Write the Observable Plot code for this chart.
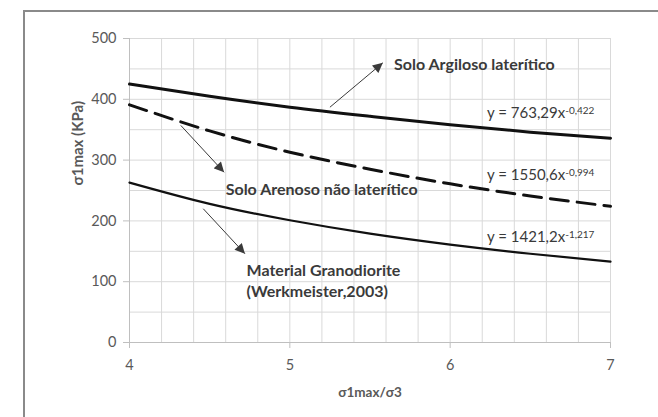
<!DOCTYPE html>
<html>
<head>
<meta charset="utf-8">
<script src="https://cdn.jsdelivr.net/npm/d3@7"></script>
<script src="https://cdn.jsdelivr.net/npm/@observablehq/plot@0.6"></script>
<style>
  html, body { margin: 0; padding: 0; background: #fff; }
  #wrap { position: relative; width: 658px; height: 417px; overflow: hidden; }
  #frame { position: absolute; left: 23px; top: 10px; width: 700px; height: 500px; border: 2px solid #8a8a8a; box-sizing: border-box; pointer-events: none; }
  svg { display: block; }
</style>
</head>
<body>
<div id="wrap"><div id="frame"></div></div>
<script>
// x values (σ1max/σ3) and curve values (kPa)
const xs = [4, 4.5, 5, 5.5, 6, 6.5, 7];
const argiloso = [425, 405, 387, 372, 358, 346, 336];
const arenoso = [391, 348, 313, 285, 261, 241, 224];
const granodiorite = [263, 228, 201, 179, 161, 146, 133];

// tick values
const xTicks = [4, 5, 6, 7];
const yTicks = [0, 100, 200, 300, 400, 500];
const xGrid = [4, 4.2, 4.4, 4.6, 4.8, 5, 5.2, 5.4, 5.6, 5.8, 6, 6.2, 6.4, 6.6, 6.8, 7];
const yGrid = [0, 50, 100, 150, 200, 250, 300, 350, 400, 450, 500];

// annotations
const labelNames = ["Solo Argiloso laterítico", "Solo Arenoso não laterítico", "Material Granodiorite\n(Werkmeister,2003)"];
const labelX = [5.65, 4.60, 4.73];
const labelY = [459, 253, 103];

const arrowX1 = [5.25, 4.32, 4.46];
const arrowY1 = [387, 357, 220];
const arrowX2 = [5.58, 4.59, 4.72];
const arrowY2 = [460, 280, 146];

const eqBase = ["y = 763,29x", "y = 1550,6x", "y = 1421,2x"];
const eqExp = ["-0,422", "-0,994", "-1,217"];
const eqX = [6.23, 6.23, 6.23];
const eqY = [377, 275, 173];

const seriesNames = ["Solo Argiloso laterítico", "Solo Arenoso não laterítico", "Material Granodiorite"];
const seriesVals = [argiloso, arenoso, granodiorite];
const rows = [];
seriesNames.forEach((s, k) => xs.forEach((x, i) => rows.push({series: s, x, y: seriesVals[k][i]})));
const idx3 = [0, 1, 2];

const textColor = "#3a3a3a";
const axisColor = "#595959";

const svg = Plot.plot({
  width: 658,
  height: 417,
  marginLeft: 129,
  marginRight: 48,
  marginTop: 38,
  marginBottom: 75,
  style: {fontFamily: "Lato, 'Open Sans', sans-serif", fontSize: "14px", color: axisColor, background: "transparent"},
  x: {domain: [4, 7]},
  y: {domain: [0, 500]},
  marks: [
    Plot.ruleX(xGrid, {stroke: "#d9d9d9", strokeWidth: 1}),
    Plot.ruleY(yGrid, {stroke: "#d9d9d9", strokeWidth: 1}),
    Plot.axisY({ticks: yTicks, tickSize: 6, tickPadding: 7, stroke: "#bfbfbf", fill: axisColor, label: null, fontSize: 14.5, tickFormat: "d"}),
    Plot.axisX({ticks: xTicks, tickSize: 6, tickPadding: 11, stroke: "#bfbfbf", fill: axisColor, label: null, fontSize: 14.5, tickFormat: "d"}),
    Plot.ruleX([4], {stroke: "#bfbfbf"}),
    Plot.ruleY([0], {stroke: "#bfbfbf"}),
    Plot.line(rows.filter(d => d.series === seriesNames[0]), {x: "x", y: "y", stroke: "#111", strokeWidth: 3, curve: "natural"}),
    Plot.line(rows.filter(d => d.series === seriesNames[1]), {x: "x", y: "y", stroke: "#111", strokeWidth: 3, strokeDasharray: "18,9", curve: "natural"}),
    Plot.line(rows.filter(d => d.series === seriesNames[2]), {x: "x", y: "y", stroke: "#111", strokeWidth: 2.2, curve: "natural"}),
    Plot.link(idx3, {x1: i => arrowX1[i], y1: i => arrowY1[i], x2: i => arrowX2[i], y2: i => arrowY2[i], stroke: textColor, strokeWidth: 1, className: "arr"}),
    Plot.text(idx3, {x: i => labelX[i], y: i => labelY[i], text: i => labelNames[i], textAnchor: "start", fontWeight: "bold", fill: textColor, fontSize: 16, lineHeight: 1.32}),
    Plot.text(idx3, {x: i => eqX[i], y: i => eqY[i], text: i => eqBase[i] + "|" + eqExp[i], textAnchor: "start", fill: textColor, fontSize: 15, className: "eqn"}),
    Plot.text(["σ1max/σ3"], {frameAnchor: "bottom", dy: 54, fontWeight: "bold", fill: axisColor, fontSize: 13.5}),
    Plot.text(["σ1max (KPa)"], {frameAnchor: "left", dx: -51, dy: -5, rotate: -90, fontWeight: "bold", fill: axisColor, fontSize: 15})
  ]
});

// filled arrow heads
const sel = d3.select(svg);
const defs = sel.insert("defs", ":first-child");
defs.append("marker")
  .attr("id", "ah").attr("viewBox", "0 0 10 10").attr("refX", 10).attr("refY", 5)
  .attr("markerWidth", 11).attr("markerHeight", 10).attr("markerUnits", "userSpaceOnUse")
  .attr("orient", "auto")
  .append("path").attr("d", "M0,0L10,5L0,10z").attr("fill", textColor);
sel.selectAll(".arr path").attr("marker-end", "url(#ah)");

// superscript exponents
sel.selectAll(".eqn text").each(function() {
  const t = d3.select(this);
  const parts = this.textContent.split("|");
  t.text(parts[0]);
  t.append("tspan").attr("dy", "-0.45em").attr("font-size", "10px").text(parts[1]);
});

document.getElementById("wrap").appendChild(svg);
</script>
</body>
</html>
